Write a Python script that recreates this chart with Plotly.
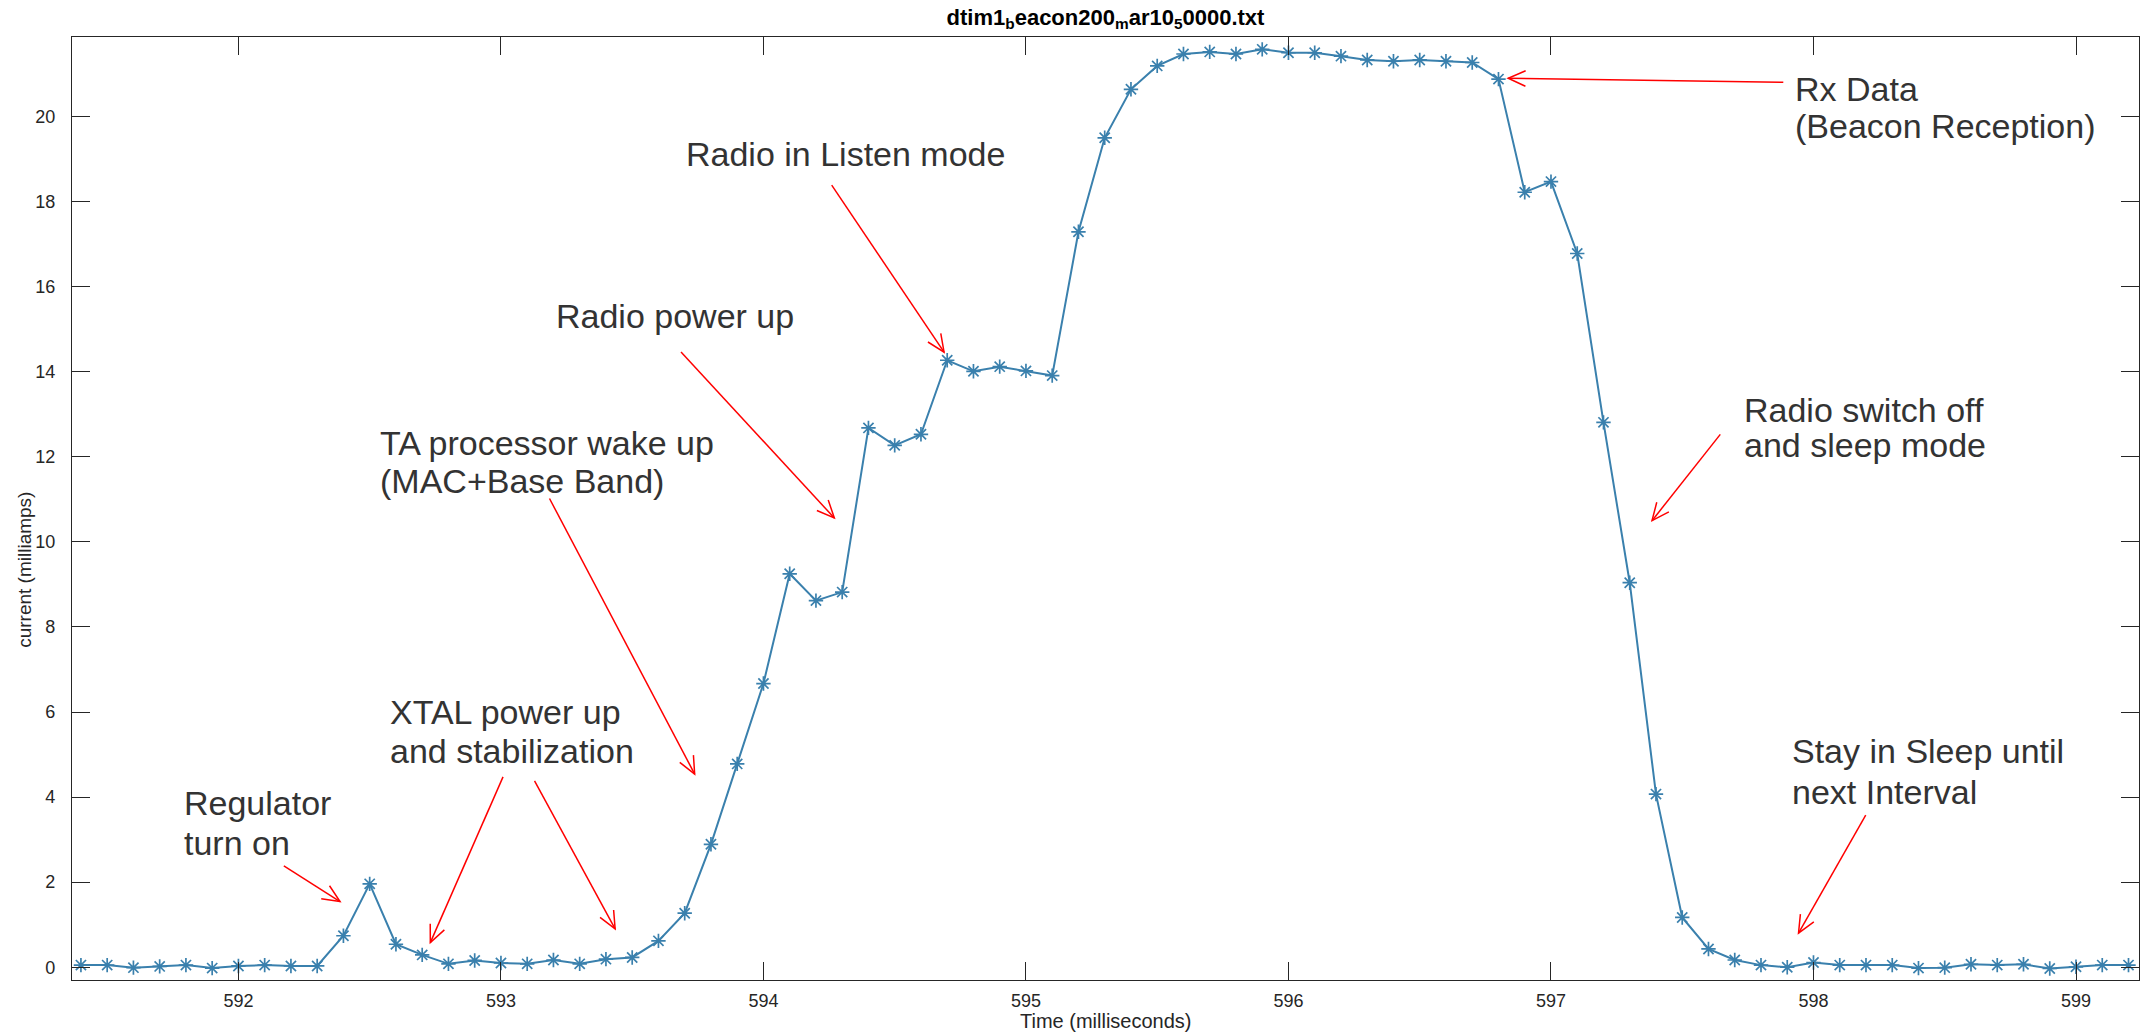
import math
import plotly.graph_objects as go

# ---------------- data ----------------
time_ms = [591.4, 591.5, 591.6, 591.7, 591.8, 591.9,
           592.0, 592.1, 592.2, 592.3, 592.4, 592.5, 592.6, 592.7, 592.8, 592.9,
           593.0, 593.1, 593.2, 593.3, 593.4, 593.5, 593.6, 593.7, 593.8, 593.9,
           594.0, 594.1, 594.2, 594.3, 594.4, 594.5, 594.6, 594.7, 594.8, 594.9,
           595.0, 595.1, 595.2, 595.3, 595.4, 595.5, 595.6, 595.7, 595.8, 595.9,
           596.0, 596.1, 596.2, 596.3, 596.4, 596.5, 596.6, 596.7, 596.8, 596.9,
           597.0, 597.1, 597.2, 597.3, 597.4, 597.5, 597.6, 597.7, 597.8, 597.9,
           598.0, 598.1, 598.2, 598.3, 598.4, 598.5, 598.6, 598.7, 598.8, 598.9,
           599.0, 599.1, 599.2]
current_ma = [0.05, 0.05, -0.01, 0.02, 0.05, -0.02,
              0.03, 0.05, 0.03, 0.03, 0.74, 1.96, 0.54, 0.29, 0.08, 0.16,
              0.10, 0.08, 0.17, 0.08, 0.19, 0.23, 0.62, 1.27, 2.89, 4.78,
              6.67, 9.25, 8.62, 8.82, 12.68, 12.27, 12.53, 14.27, 14.01, 14.12,
              14.02, 13.91, 17.29, 19.50, 20.64, 21.19, 21.47, 21.52, 21.47, 21.58,
              21.50, 21.50, 21.42, 21.33, 21.30, 21.33, 21.30, 21.27, 20.88, 18.22,
              18.47, 16.78, 12.81, 9.04, 4.07, 1.17, 0.43, 0.17, 0.05, 0.00,
              0.11, 0.05, 0.05, 0.05, -0.02, -0.01, 0.07, 0.05, 0.07, -0.03,
              0.01, 0.05, 0.05]

x_ticks = [592, 593, 594, 595, 596, 597, 598, 599]
y_ticks = [0, 2, 4, 6, 8, 10, 12, 14, 16, 18, 20]

title_text = "<b>dtim1<sub>b</sub>eacon200<sub>m</sub>ar10<sub>5</sub>0000.txt</b>"
x_label = "Time (milliseconds)"
y_label = "current (milliamps)"

# annotation text lines: text, left x, centre y (data units)
label_lines = [
    ("Regulator", 591.786, 3.86),
    ("turn on", 591.786, 2.93),
    ("XTAL power up", 592.570, 5.99),
    ("and stabilization", 592.570, 5.09),
    ("TA processor wake up", 592.532, 12.33),
    ("(MAC+Base Band)", 592.532, 11.43),
    ("Radio power up", 593.201, 15.30),
    ("Radio in Listen mode", 593.696, 19.13),
    ("Rx Data", 597.921, 20.64),
    ("(Beacon Reception)", 597.921, 19.77),
    ("Radio switch off", 597.729, 13.11),
    ("and sleep mode", 597.729, 12.27),
    ("Stay in Sleep until", 597.912, 5.09),
    ("next Interval", 597.912, 4.12),
]
# arrows: tail x, tail y, head x, head y (data units)
arrows = [
    (592.173, 2.384, 592.387, 1.544),
    (593.008, 4.476, 592.731, 0.578),
    (593.128, 4.379, 593.435, 0.900),
    (593.185, 11.02, 593.738, 4.542),
    (593.686, 14.462, 594.270, 10.562),
    (594.260, 18.387, 594.688, 14.462),
    (597.885, 20.804, 596.837, 20.900),
    (597.645, 12.527, 597.385, 10.499),
    (598.199, 3.578, 597.943, 0.804),
]

# ---------------- layout geometry ----------------
W, H = 2148, 1034
ML, MR, MT, MB = 72, 9, 37, 54
XR = [591.366, 599.24]
YR = [-0.3, 21.87]
PW, PH = W - ML - MR, H - MT - MB

def to_px(x, y):
    return ((x - XR[0]) / (XR[1] - XR[0]) * PW, (YR[1] - y) / (YR[1] - YR[0]) * PH)

def to_data(px, py):
    return (XR[0] + px / PW * (XR[1] - XR[0]), YR[1] - py / PH * (YR[1] - YR[0]))

AX_COLOR = "#262626"
FONT = "Liberation Sans, Arial, Helvetica, sans-serif"

fig = go.Figure()
fig.add_trace(go.Scatter(
    x=time_ms, y=current_ma, mode="lines+markers",
    line=dict(color="#3a80ad", width=2),
    marker=dict(symbol="asterisk-open", size=12,
                line=dict(color="#1c66a0", width=1.7)),
    hoverinfo="x+y", showlegend=False,
))

shapes = []
red = "#ff0000"
for (tx, ty, hx, hy) in arrows:
    shapes.append(dict(type="line", xref="x", yref="y", x0=tx, y0=ty, x1=hx, y1=hy,
                       line=dict(color=red, width=1.5), layer="above"))
    hpx, hpy = to_px(hx, hy)
    tpx, tpy = to_px(tx, ty)
    dx, dy = tpx - hpx, tpy - hpy
    n = math.hypot(dx, dy)
    ux, uy = dx / n, dy / n
    pts = []
    for ang in (math.radians(24), math.radians(-24)):
        rx = ux * math.cos(ang) - uy * math.sin(ang)
        ry = ux * math.sin(ang) + uy * math.cos(ang)
        pts.append(to_data(hpx + 19 * rx, hpy + 19 * ry))
    path = "M {:.5f},{:.5f} L {:.5f},{:.5f} L {:.5f},{:.5f}".format(
        pts[0][0], pts[0][1], hx, hy, pts[1][0], pts[1][1])
    shapes.append(dict(type="path", xref="x", yref="y", path=path,
                       line=dict(color=red, width=1.5), layer="above"))

annotations = []
for (txt, lx, cy) in label_lines:
    annotations.append(dict(text=txt, x=lx, y=cy, xref="x", yref="y",
                            xanchor="left", yanchor="middle", align="left",
                            showarrow=False,
                            font=dict(family=FONT, size=34, color="#333333")))
annotations.append(dict(text=x_label, xref="paper", yref="paper", x=0.5,
                        y=-41 / PH, xanchor="center", yanchor="middle",
                        showarrow=False,
                        font=dict(family=FONT, size=20, color=AX_COLOR)))
annotations.append(dict(text=y_label, xref="paper", yref="paper",
                        x=-47 / PW, y=0.435, textangle=-90,
                        xanchor="center", yanchor="middle", showarrow=False,
                        font=dict(family=FONT, size=19, color=AX_COLOR)))

fig.update_layout(
    width=W, height=H,
    margin=dict(l=ML, r=MR, t=MT, b=MB, autoexpand=False),
    paper_bgcolor="white", plot_bgcolor="white",
    font=dict(family=FONT, color=AX_COLOR),
    title=dict(text=title_text, x=0.5, xref="paper", xanchor="center",
               y=1 - 17 / H, yref="container", yanchor="middle",
               font=dict(family=FONT, size=22, color="#000000")),
    shapes=shapes, annotations=annotations,
    xaxis=dict(range=XR, tickvals=x_ticks, ticks="inside", ticklen=18,
               tickwidth=1.2, tickcolor=AX_COLOR, showline=True, linecolor=AX_COLOR,
               linewidth=1.3, mirror="ticks", showgrid=False, zeroline=False,
               tickfont=dict(family=FONT, size=18, color=AX_COLOR),
               ticklabelstandoff=4, automargin=False),
    yaxis=dict(range=YR, tickvals=y_ticks, ticks="inside", ticklen=18,
               tickwidth=1.2, tickcolor=AX_COLOR, showline=True, linecolor=AX_COLOR,
               linewidth=1.3, mirror="ticks", showgrid=False, zeroline=False,
               tickfont=dict(family=FONT, size=18, color=AX_COLOR),
               ticklabelstandoff=12, automargin=False),
)

fig.write_html("out.html",
               config={"displayModeBar": False},
               post_script="document.body.style.margin='0';document.body.style.overflow='hidden';")
